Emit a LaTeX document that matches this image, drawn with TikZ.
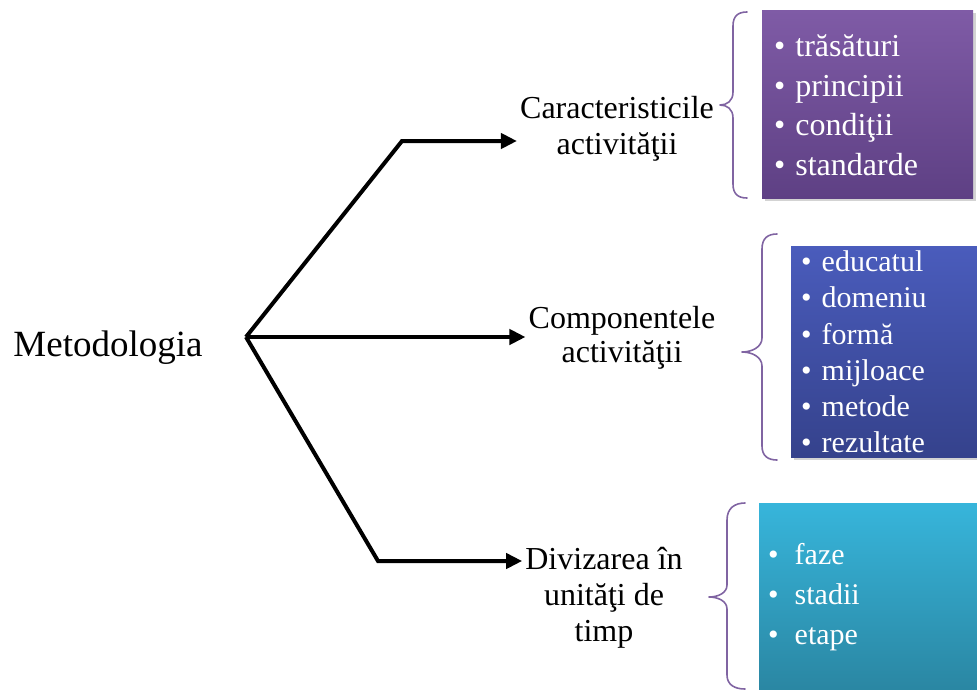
\documentclass[tikz,border=0pt]{standalone}
\usepackage{fontspec}
\setmainfont{Liberation Serif}
\usetikzlibrary{arrows.meta,shadows}
\definecolor{braceC}{HTML}{8064A2}
\definecolor{purTop}{HTML}{7F5BA6}
\definecolor{purBot}{HTML}{5E4084}
\definecolor{bluTop}{HTML}{4A5CBC}
\definecolor{bluBot}{HTML}{35428C}
\definecolor{teaTop}{HTML}{37B5DB}
\definecolor{teaBot}{HTML}{2A86A2}
\newcommand{\bul}{•\hspace{10pt}}
\newcommand{\bulw}{•\hspace{16pt}}
\tikzset{
  conn/.style={line width=4pt,-{Triangle[length=16pt,width=15pt]}},
  lab/.style={align=center,inner sep=3pt},
  listbox/.style={drop shadow={shadow xshift=3pt,shadow yshift=-3pt,opacity=0.35,fill=gray}},
  listtext/.style={align=left,text=white,inner sep=0pt,anchor=west},
  bracestyle/.style={draw=braceC,line width=1.6pt,line cap=round,line join=round}
}
\begin{document}
\begin{tikzpicture}[x=1pt,y=-1pt]
\useasboundingbox (0,0) rectangle (977,689);
% root
\node[inner sep=0pt,font=\fontsize{37}{40}\selectfont] (root) at (108,348) {Metodologia};
\coordinate (hub) at (246,337);
\coordinate (k1) at (402,141);
\coordinate (k3) at (378,561);
% labels
\node[lab,font=\fontsize{32}{35.5}\selectfont] (l1) at (617,129) {Caracteristicile\\activităţii};
\node[lab,font=\fontsize{32}{34}\selectfont] (l2) at (622,338) {Componentele\\activităţii};
\node[lab,font=\fontsize{32}{36}\selectfont] (l3) at (604,598) {Divizarea în\\unităţi de\\timp};
% connectors
\draw[conn] (hub) -- (k1) -- (l1.west |- k1);
\draw[conn] (hub) -- (l2.west |- hub);
\draw[conn] (hub) -- (k3) -- (l3.west |- k3);
% boxes
\path[listbox,top color=purTop,bottom color=purBot] (762,10) rectangle (973,198);
\node (b1) at (867.5,104) {};
\path[listbox,top color=bluTop,bottom color=bluBot] (791,246) rectangle (980,457);
\node (b2) at (884,351.5) {};
\path[listbox,top color=teaTop,bottom color=teaBot] (759,503) rectangle (980,692);
\node (b3) at (868,596) {};
% list texts
\node[listtext,font=\fontsize{32}{39.5}\selectfont] (t1) at (774,105) {\bul trăsături\\\bul principii\\\bul condiţii\\\bul standarde};
\node[listtext,font=\fontsize{30}{36.2}\selectfont] (t2) at (801,352) {\bul educatul\\\bul domeniu\\\bul formă\\\bul mijloace\\\bul metode\\\bul rezultate};
\node[listtext,font=\fontsize{30}{40}\selectfont] (t3) at (768,597) {\bulw faze\\\bulw stadii\\\bulw etape};
% braces
\draw[bracestyle] (747,12) .. controls (738,12) and (733,16) .. (733,26) -- (733,92)
  .. controls (733,101) and (727,105) .. (720,105)
  .. controls (727,105) and (733,109) .. (733,118) -- (733,184)
  .. controls (733,194) and (738,198) .. (747,198);
\draw[bracestyle] (777,234) .. controls (768,234) and (762,238) .. (762,249) -- (762,338)
  .. controls (762,347) and (752,352) .. (742,352)
  .. controls (752,352) and (762,357) .. (762,366) -- (762,446)
  .. controls (762,456) and (768,460) .. (777,460);
\draw[bracestyle] (745,503) .. controls (735,503) and (727,508) .. (727,520) -- (727,585)
  .. controls (727,593) and (718,597) .. (709,597)
  .. controls (718,597) and (727,601) .. (727,609) -- (727,675)
  .. controls (727,685) and (735,689) .. (745,689);
\end{tikzpicture}
\end{document}
